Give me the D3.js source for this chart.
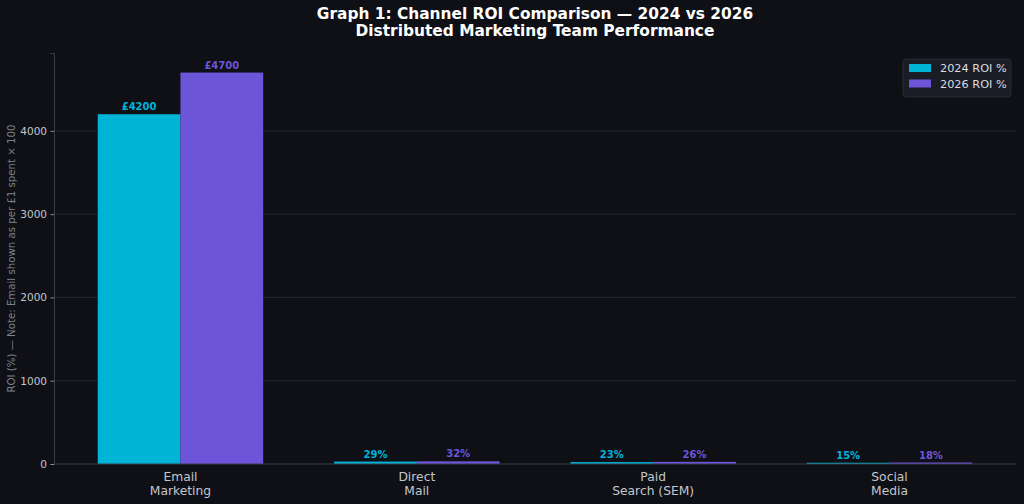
<!DOCTYPE html>
<html>
<head>
<meta charset="utf-8">
<script src="https://cdn.jsdelivr.net/npm/d3@7"></script>
<style>
  body { margin: 0; background: #0e1016; }
  svg { display: block; font-family: "DejaVu Sans", sans-serif; }
</style>
</head>
<body>
<div id="chart"></div>
<script>
// channel ROI data
var categories = ["Email\nMarketing", "Direct\nMail", "Paid\nSearch (SEM)", "Social\nMedia"];
var roi2024 = [4200, 29, 23, 15];
var roi2026 = [4700, 32, 26, 18];
var labels2024 = ["£4200", "29%", "23%", "15%"];
var labels2026 = ["£4700", "32%", "26%", "18%"];
var seriesNames = ["2024 ROI %", "2026 ROI %"];
var yTicks = [0, 1000, 2000, 3000, 4000];

var W = 1024, H = 504;
var m = { left: 54, right: 8, top: 53, bottom: 40 };
var colors = ["#00b4d8", "#6c55d9"];

var svg = d3.select("#chart").append("svg")
    .attr("width", W).attr("height", H);

svg.append("rect").attr("width", W).attr("height", H).attr("fill", "#0e1016");

var barW = 0.35;
var x = d3.scaleLinear()
    .domain([-0.535, categories.length - 1 + 0.535])
    .range([m.left, W - m.right]);
var yMax = d3.max(roi2026) * 1.05;
var y = d3.scaleLinear().domain([0, yMax]).range([H - m.bottom, m.top]);

// grid
svg.append("g").selectAll("line").data(yTicks.slice(1)).join("line")
    .attr("x1", m.left).attr("x2", W - m.right)
    .attr("y1", function (d) { return y(d); })
    .attr("y2", function (d) { return y(d); })
    .attr("stroke", "#2a2d36").attr("stroke-width", 0.8);

// bars
var series = [roi2024, roi2026];
var seriesLabels = [labels2024, labels2026];
series.forEach(function (vals, s) {
    var g = svg.append("g");
    g.selectAll("rect").data(vals).join("rect")
        .attr("x", function (d, i) { return x(i + (s === 0 ? -barW : 0)); })
        .attr("width", x(barW) - x(0))
        .attr("y", function (d) { return y(d); })
        .attr("height", function (d) { return y(0) - y(d); })
        .attr("fill", colors[s]);
    g.selectAll("text").data(vals).join("text")
        .attr("x", function (d, i) { return x(i + (s === 0 ? -barW / 2 : barW / 2)); })
        .attr("y", function (d) { return y(d) - 4; })
        .attr("text-anchor", "middle")
        .attr("font-size", 10).attr("font-weight", "bold")
        .attr("fill", colors[s])
        .text(function (d, i) { return seriesLabels[s][i]; });
});

// axes
var yAxis = svg.append("g")
    .attr("transform", "translate(" + m.left + ",0)")
    .call(d3.axisLeft(y).tickValues(yTicks).tickFormat(d3.format("d")).tickSize(3.5).tickPadding(3.5));
yAxis.select(".domain").attr("stroke", "#3a3d48");
yAxis.selectAll(".tick line").attr("stroke", "#8a8d96");
yAxis.selectAll(".tick text").attr("fill", "#c4c6cc").attr("font-size", 10.5)
    .attr("font-family", "DejaVu Sans, sans-serif");

svg.append("line")
    .attr("x1", m.left).attr("x2", W - m.right)
    .attr("y1", y(0)).attr("y2", y(0))
    .attr("stroke", "#3a3d48");

// x category labels
var xl = svg.append("g").selectAll("text").data(categories).join("text")
    .attr("x", function (d, i) { return x(i); })
    .attr("y", y(0) + 17)
    .attr("text-anchor", "middle")
    .attr("font-size", 12.3).attr("fill", "#c4c6cc");
xl.each(function (d, i) {
    var t = d3.select(this);
    d.split("\n").forEach(function (line, k) {
        t.append("tspan").attr("x", x(i)).attr("dy", k === 0 ? 0 : 13.5).text(line);
    });
});

// y label
svg.append("text")
    .attr("transform", "translate(15," + ((m.top + H - m.bottom) / 2) + ") rotate(-90)")
    .attr("text-anchor", "middle")
    .attr("font-size", 10.2).attr("fill", "#7d808a")
    .text("ROI (%) — Note: Email shown as per £1 spent × 100");

// title
var cx = (m.left + W - m.right) / 2;
svg.append("text").attr("x", cx).attr("y", 19)
    .attr("text-anchor", "middle").attr("font-size", 15.4).attr("font-weight", "bold")
    .attr("fill", "#ffffff").text("Graph 1: Channel ROI Comparison — 2024 vs 2026");
svg.append("text").attr("x", cx).attr("y", 36)
    .attr("text-anchor", "middle").attr("font-size", 15.4).attr("font-weight", "bold")
    .attr("fill", "#ffffff").text("Distributed Marketing Team Performance");

// legend
var lg = svg.append("g").attr("transform", "translate(903,59)");
lg.append("rect").attr("width", 108).attr("height", 38).attr("rx", 3)
    .attr("fill", "#1a1d26").attr("stroke", "#2e313b").attr("stroke-width", 0.8);
seriesNames.forEach(function (name, s) {
    lg.append("rect").attr("x", 6).attr("y", 5 + s * 15.5).attr("width", 22).attr("height", 8)
        .attr("fill", colors[s]);
    lg.append("text").attr("x", 37).attr("y", 13 + s * 15.5)
        .attr("font-size", 11.3).attr("fill", "#dcdde2").text(name);
});
</script>
</body>
</html>
